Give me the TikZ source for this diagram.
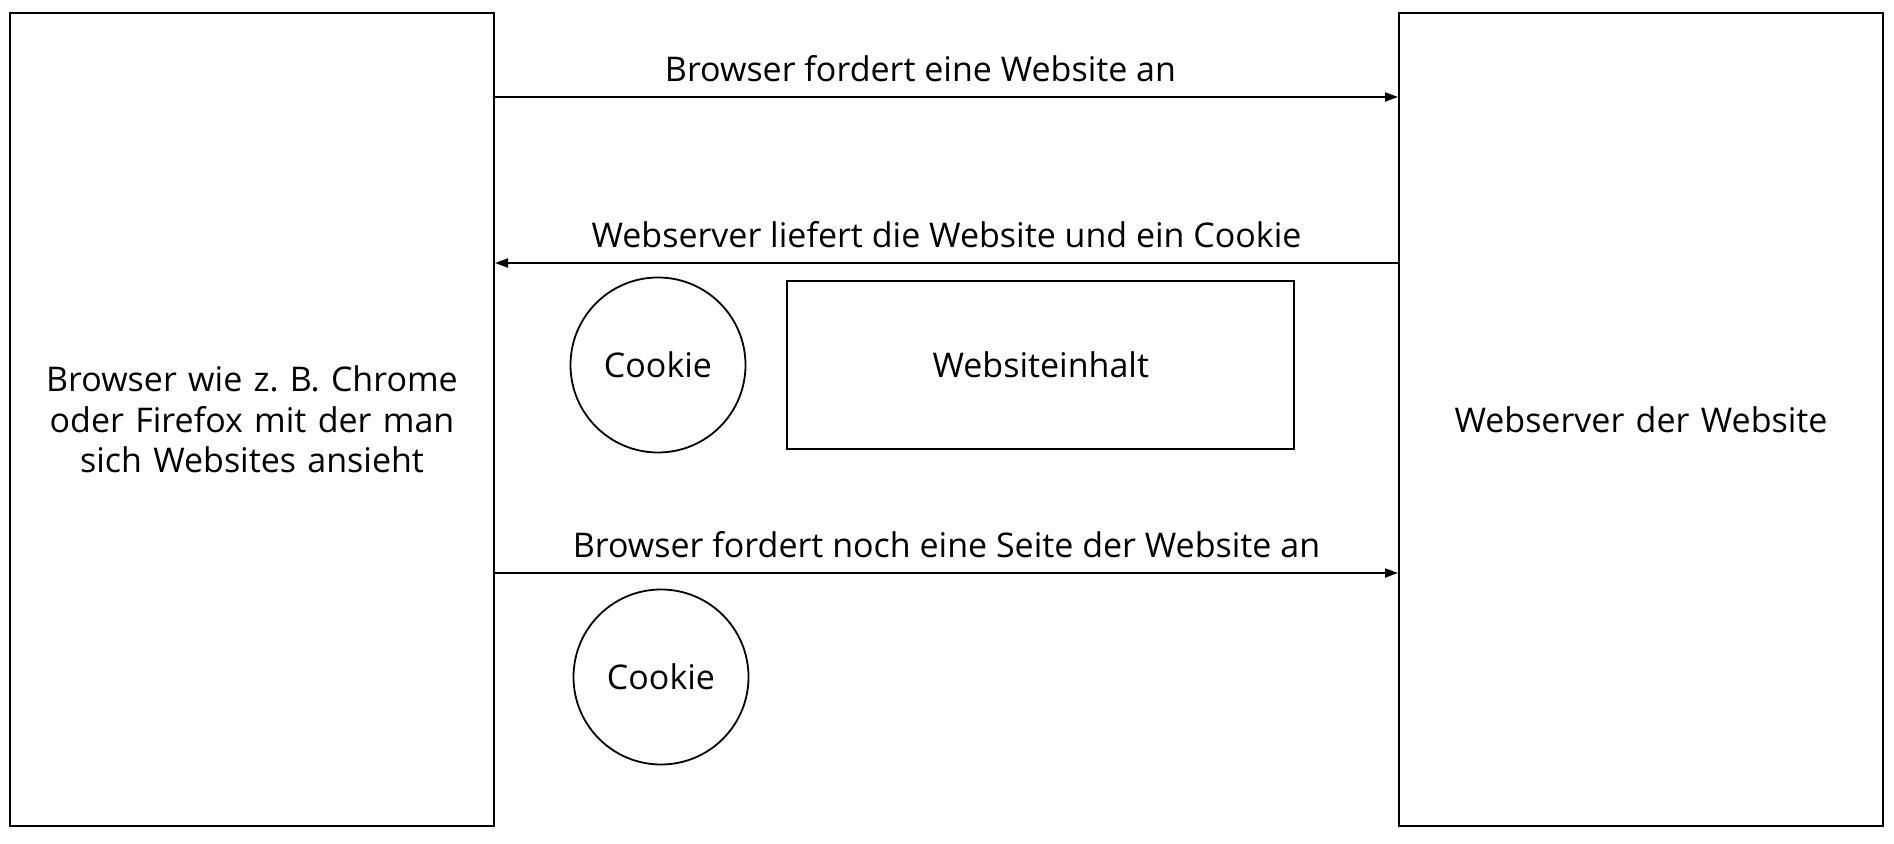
\documentclass[tikz,border=0pt]{standalone}
\usepackage{fontspec}
\setmainfont{Open Sans}
\frenchspacing
\usetikzlibrary{positioning, arrows.meta}
\tikzset{
>={Triangle[length=13pt, width=9pt]}, % small filled heads
every node/.style={font=\fontsize{34}{40.5}\selectfont},
party/.style={draw, line width=2pt, minimum width=484pt, minimum height=813pt, align=center, text width=440pt}, % browser and server
cookie/.style={draw, circle, line width=1.8pt, minimum size=175pt, inner sep=0pt},
content/.style={draw, line width=1.8pt, minimum width=507pt, minimum height=168pt},
msg/.style={->, line width=2pt},
label/.style={anchor=base, yshift=15pt},
}
\begin{document}
\begin{tikzpicture}[x=1pt, y=1pt]
            \useasboundingbox (0,0) rectangle (1894,843);
            \node[party] (browser) at (252,423.5) {Browser wie z. B. Chrome\\ oder Firefox mit der man\\ sich Websites ansieht};
            \node[party, right=903pt of browser] (server) {Webserver der Website};
            \node[cookie] (cookieA) at (658,478) {Cookie};
            \node[content, right=40pt of cookieA] (content) {Websiteinhalt};
            \node[cookie] (cookieB) at (661,166) {Cookie};

            % messages between the two
            \draw[msg] ([yshift=-85pt]browser.north east) -- node[label, xshift=-26pt]{Browser fordert eine Website an} ([yshift=-85pt]server.north west);
            \draw[msg] ([yshift=-251pt]server.north west) -- node[label]{Webserver liefert die Website und ein Cookie} ([yshift=-251pt]browser.north east);
            \draw[msg] ([yshift=-561pt]browser.north east) -- node[label]{Browser fordert noch eine Seite der Website an} ([yshift=-561pt]server.north west);
        \end{tikzpicture}
\end{document}
